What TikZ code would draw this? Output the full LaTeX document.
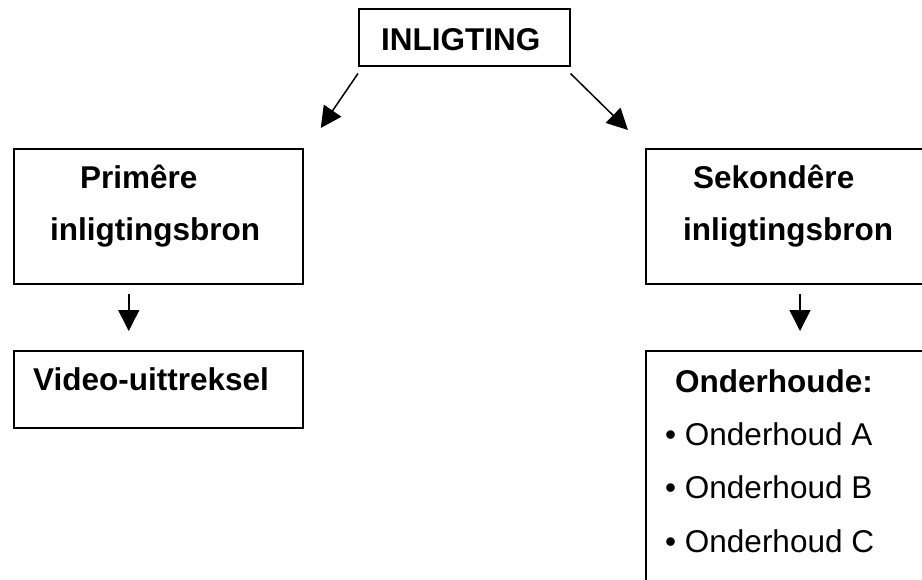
\documentclass[tikz,border=0pt]{standalone}
\usepackage{fontspec}
\setmainfont{Liberation Sans}
\usetikzlibrary{arrows.meta}
\begin{document}
\begin{tikzpicture}[x=1pt,y=-1pt,
  box/.style={draw, line width=1.5pt, rectangle, inner sep=0pt, anchor=north west},
  head/.style={anchor=base west, inner sep=0pt, font=\fontsize{31.5}{31.5}\selectfont\bfseries},
  item/.style={anchor=base west, inner sep=0pt, font=\fontsize{31.5}{31.5}\selectfont},
  link/.style={line width=1.5pt, -{Triangle[length=21pt,width=21pt]}}]
\useasboundingbox (0,0) rectangle (922,579);
\clip (0,0) rectangle (922,579);

% boxes
\node[box, minimum width=211pt, minimum height=57pt] (top) at (358,8) {};
\node[box, minimum width=289pt, minimum height=135pt] (prim) at (13,148) {};
\node[box, minimum width=289pt, minimum height=77pt] (video) at (13,350) {};
\node[box, minimum width=290pt, minimum height=135pt] (sek) at (645,148) {};
\node[box, minimum width=290pt, minimum height=250pt] (ond) at (645,350) {};

% labels
\node[head] (tTop) at (381,50) {INLIGTING};
\node[head] (tPrimA) at (80,188) {Primêre};
\node[head] (tPrimB) at (50,240) {inligtingsbron};
\node[head] (tVideo) at (33,390) {Video-uittreksel};
\node[head] (tSekA) at (693,188) {Sekondêre};
\node[head] (tSekB) at (683,240) {inligtingsbron};
\node[head] (tOnd) at (675,392) {Onderhoude:};
\node[item] (iA) at (665,445) {• Onderhoud A};
\node[item] (iB) at (665,498) {• Onderhoud B};
\node[item] (iC) at (665,552) {• Onderhoud C};

% connectors
\draw[link] ([yshift=-7pt]top.south west) -- ([xshift=162.5pt,yshift=20pt]prim.north);
\draw[link] ([yshift=-7pt]top.south east) -- ([xshift=-17pt,yshift=18pt]sek.north west);
\draw[link] ([xshift=-29.5pt,yshift=-9pt]prim.south) -- ([xshift=-29.5pt,yshift=19pt]video.north);
\draw[link] ([xshift=155pt,yshift=-9pt]sek.south west) -- ([xshift=155pt,yshift=19pt]ond.north west);
\end{tikzpicture}
\end{document}
